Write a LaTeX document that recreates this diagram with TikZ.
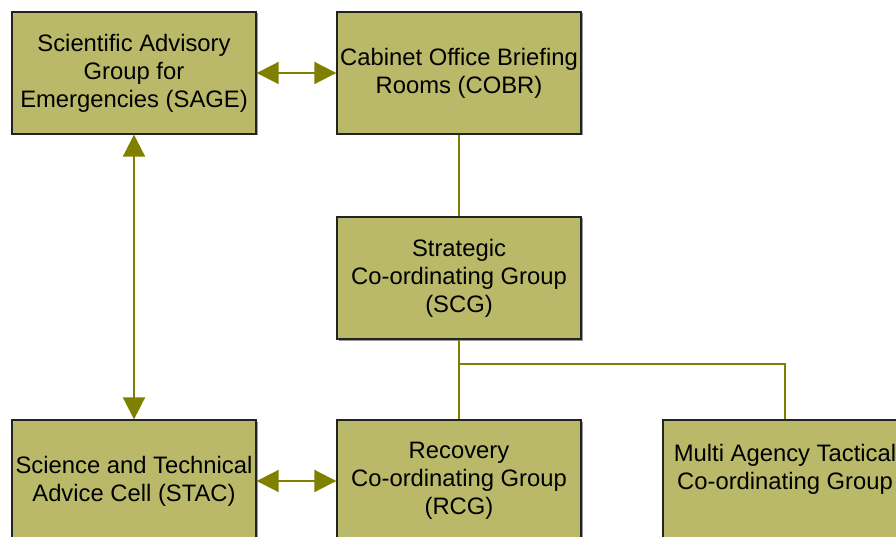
\documentclass[tikz,border=0pt]{standalone}
\usepackage{fontspec}
\setmainfont{Liberation Sans}
\usetikzlibrary{arrows.meta, calc, shadows}
\definecolor{boxfill}{RGB}{185,185,105}
\definecolor{olive}{RGB}{128,128,0}
\definecolor{boxline}{RGB}{35,35,35}

\begin{document}
\begin{tikzpicture}[x=1pt, y=-1pt,
    every node/.style={font=\fontsize{23.8}{28}\selectfont},
    group/.style={draw=boxline, line width=1.4pt, fill=boxfill,
      minimum width=244pt, minimum height=122pt, inner sep=0pt, align=center,
      drop shadow={shadow xshift=1.5pt, shadow yshift=-1.5pt, fill=black!40, opacity=1}},
    link/.style={olive, line width=2pt},
    twoway/.style={link, {Triangle[length=22pt, width=22pt]}-{Triangle[length=22pt, width=22pt]}}]
  \path[use as bounding box, clip] (0,0) rectangle (896,537);
  \fill[white] (0,0) rectangle (896,537);

  % top row
  \node[group] (sage) at (134,73) {Scientific Advisory\\Group for\\Emergencies (SAGE)};
  \node[group] (cobr) at (459,73) {Cabinet Office Briefing\\Rooms (COBR)};

  % middle
  \node[group] (scg) at (459,278) {Strategic\\Co-ordinating Group\\(SCG)};

  % bottom row
  \node[group] (stac) at (134,481) {Science and Technical\\Advice Cell (STAC)};
  \node[group] (rcg) at (459,481) {Recovery\\Co-ordinating Group\\(RCG)};
  \node[group] (matcg) at (785,481) {Multi Agency Tactical\\Co-ordinating Group\\\mbox{}};

  % connectors
  \draw[twoway] (sage) -- (cobr);
  \draw[twoway] (sage) -- (stac);
  \draw[twoway] (stac) -- (rcg);
  \draw[link] (cobr) -- (scg);
  \draw[link] (scg) -- (rcg);
  \coordinate (split) at ($(scg.south)!0.3!(rcg.north)$);
  \draw[link] (split) -| (matcg.north);
\end{tikzpicture}
\end{document}
